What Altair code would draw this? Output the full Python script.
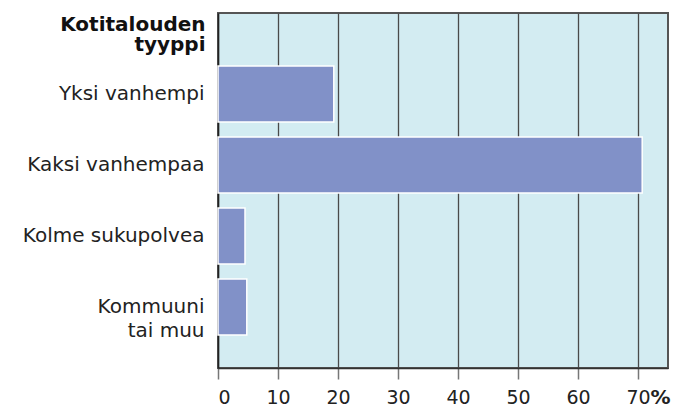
import altair as alt
import pandas as pd

categories = ["Yksi vanhempi", "Kaksi vanhempaa", "Kolme sukupolvea", "Kommuuni tai muu"]
values = [19.3, 70.7, 4.5, 4.8]
x_ticks = [0, 10, 20, 30, 40, 50, 60, 70]

df = pd.DataFrame({"tyyppi": categories, "osuus": values})

FONT = "DejaVu Sans"

chart = alt.Chart(df).mark_bar(
    color="#8191C8", stroke="white", strokeWidth=1.5
).encode(
    x=alt.X(
        "osuus:Q",
        scale=alt.Scale(domain=[0, 75], nice=False),
        axis=alt.Axis(
            values=x_ticks,
            title="%",
            titleFont=FONT,
            titleFontSize=20,
            titleFontWeight="bold",
            titleColor="#222",
            titleX=442,
            titleY=29,
            titleAlign="center",
            titleBaseline="middle",
            labelFont=FONT,
            labelFontSize=19,
            labelColor="#222",
            labelPadding=9,
            tickSize=11,
            tickColor="#777",
            tickWidth=1.5,
            domainColor="#333",
            domainWidth=1.5,
            grid=True,
            gridColor="#4a4a4a",
            gridWidth=1.3,
        ),
    ),
    y=alt.Y(
        "tyyppi:N",
        sort=categories,
        scale=alt.Scale(paddingInner=0.211, paddingOuter=0.6055, align=0.616),
        axis=alt.Axis(
            title=["Kotitalouden", "tyyppi"],
            titleFont=FONT,
            titleFontSize=20,
            titleFontWeight="bold",
            titleColor="#111",
            titleAngle=0,
            titleAlign="right",
            titleBaseline="alphabetic",
            titleX=-13,
            titleY=17,
            titleLineHeight=20,
            labelFont=FONT,
            labelFontSize=20,
            labelColor="#222",
            labelPadding=14,
            labelLimit=300,
            labelLineHeight=24,
            labelExpr="datum.label == 'Kommuuni tai muu' ? ['Kommuuni', 'tai muu'] : datum.label",
            ticks=False,
            domainColor="#222",
            domainWidth=1.5,
        ),
    ),
).properties(
    width=450,
    height=355,
    padding={"left": 210, "top": 5, "right": 6, "bottom": 40},
    autosize=alt.AutoSizeParams(type="none"),
).configure_view(
    fill="#D3ECF2", stroke="#555", strokeWidth=2
)

chart.save("out.html", embed_options={"renderer": "svg", "actions": False})
